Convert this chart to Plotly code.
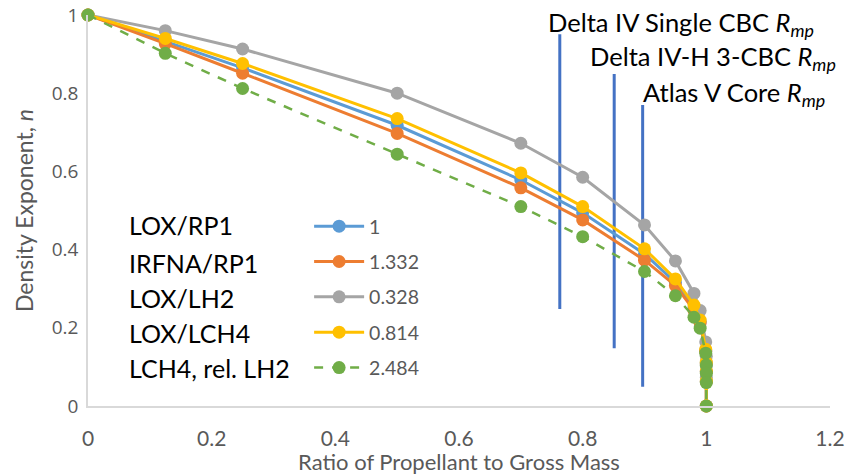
import plotly.graph_objects as go

# ---- data ----
mass_ratio = [0, 0.125, 0.25, 0.5, 0.7, 0.8, 0.9, 0.95, 0.98, 0.99, 0.999, 0.9999, 0.99999, 0.999999, 1]

series_names = ["1", "1.332", "0.328", "0.814", "2.484"]
propellants = ["LOX/RP1", "IRFNA/RP1", "LOX/LH2", "LOX/LCH4", "LCH4, rel. LH2"]

n_lox_rp1 = [1, 0.933, 0.865, 0.718, 0.578, 0.494, 0.389, 0.316, 0.250, 0.216, 0.142, 0.110, 0.088, 0.063, 0]
n_irfna_rp1 = [1, 0.927, 0.851, 0.697, 0.558, 0.476, 0.373, 0.308, 0.245, 0.212, 0.140, 0.108, 0.087, 0.062, 0]
n_lox_lh2 = [1, 0.960, 0.913, 0.800, 0.672, 0.585, 0.463, 0.371, 0.288, 0.244, 0.164, 0.127, 0.102, 0.073, 0]
n_lox_lch4 = [1, 0.940, 0.876, 0.735, 0.596, 0.510, 0.402, 0.325, 0.258, 0.220, 0.145, 0.112, 0.090, 0.064, 0]
n_lch4_rel_lh2 = [1, 0.902, 0.812, 0.644, 0.510, 0.433, 0.344, 0.282, 0.227, 0.199, 0.135, 0.105, 0.084, 0.060, 0]

y_tick_vals = [0, 0.2, 0.4, 0.6, 0.8, 1]
y_tick_text = ["0", "0.2", "0.4", "0.6", "0.8", "1"]

vehicle_labels = ["Delta IV Single CBC", "Delta IV-H 3-CBC", "Atlas V Core"]
vehicle_rmp = [0.763, 0.851, 0.897]
vehicle_line_bottom = [0.248, 0.148, 0.049]
vehicle_line_top = [0.951, 0.849, 0.770]

# ---- styles ----
colors = ["#5B9BD5", "#ED7D31", "#A5A5A5", "#FFC000", "#70AD47"]
dashes = ["solid", "solid", "solid", "solid", "dash"]
widths = [3, 3, 3, 3, 2.5]
FONT = "Lato"
GREY_TXT = "#595959"

fig = go.Figure()

# vehicle R_mp vertical lines (drawn first, under curves)
for vx, vb, vt in zip(vehicle_rmp, vehicle_line_bottom, vehicle_line_top):
    fig.add_trace(go.Scatter(
        x=[vx, vx], y=[vb, vt], mode="lines",
        line=dict(color="#4472C4", width=3),
        showlegend=False, hoverinfo="skip"))

all_series = [n_lox_rp1, n_irfna_rp1, n_lox_lh2, n_lox_lch4, n_lch4_rel_lh2]
for i, (name, ys) in enumerate(zip(series_names, all_series)):
    fig.add_trace(go.Scatter(
        x=mass_ratio, y=ys, name=name, mode="lines+markers",
        line=dict(color=colors[i], width=widths[i], dash=dashes[i]),
        marker=dict(color=colors[i], size=13),
        legendgroup=f"g{i}", cliponaxis=False))

# vehicle labels
label_x = [0.740, 0.808, 0.894]
label_y = [0.978, 0.890, 0.799]
for txt, lx, ly in zip(vehicle_labels, label_x, label_y):
    fig.add_annotation(
        x=lx, y=ly, xref="x", yref="y", xanchor="left", yanchor="middle",
        text=f"{txt} <i>R</i><sub><i>mp</i></sub>", showarrow=False,
        font=dict(family=FONT, size=25.5, color="#000000"))

# propellant names beside legend
prop_y = [0.462, 0.366, 0.276, 0.187, 0.097]
for txt, py in zip(propellants, prop_y):
    fig.add_annotation(
        x=0.053, y=py, xref="paper", yref="paper", xanchor="left", yanchor="middle",
        text=txt, showarrow=False,
        font=dict(family=FONT, size=25, color="#000000"))

fig.update_layout(
    width=845, height=475,
    margin=dict(l=88, r=15, t=15, b=69),
    plot_bgcolor="white", paper_bgcolor="white",
    font=dict(family=FONT, color=GREY_TXT),
    showlegend=True,
    legend=dict(
        x=0.298, y=0.509, xanchor="left", yanchor="top",
        font=dict(family=FONT, size=19.5, color=GREY_TXT),
        itemwidth=50, tracegroupgap=7, bgcolor="rgba(0,0,0,0)"),
    xaxis=dict(
        range=[0, 1.2], dtick=0.2, showgrid=False, zeroline=False,
        showline=True, linecolor="#D9D9D9", linewidth=1.5, automargin=False,
        ticks="outside", ticklen=13, tickcolor="rgba(0,0,0,0)",
        ticklabeloverflow="allow",
        tickfont=dict(family=FONT, size=21, color=GREY_TXT),
        title=dict(text="Ratio of Propellant to Gross Mass",
                   font=dict(family=FONT, size=22, color=GREY_TXT), standoff=2)),
    yaxis=dict(
        range=[0, 1], tickmode="array", tickvals=y_tick_vals, ticktext=y_tick_text,
        showgrid=False, zeroline=False,
        showline=True, linecolor="#D9D9D9", linewidth=1.5, automargin=False,
        ticks="outside", ticklen=4, tickcolor="rgba(0,0,0,0)",
        ticklabeloverflow="allow",
        tickfont=dict(family="Open Sans", size=19, color=GREY_TXT),
        title=dict(text="Density Exponent, <i>n</i>",
                   font=dict(family=FONT, size=23, color=GREY_TXT), standoff=12)),
)

fig.write_html("out.html", config={"displayModeBar": False},
               post_script="document.body.style.margin='0px';")
